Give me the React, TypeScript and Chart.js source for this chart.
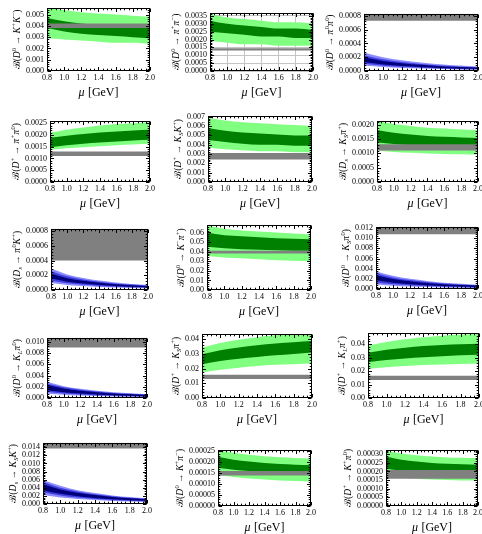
import React, { useEffect, useRef } from 'react';
import { Chart, registerables } from 'chart.js';
Chart.register(...registerables);

const FONT = "'Liberation Serif', 'DejaVu Serif', serif";

// ---------- shared x axis ----------
const MU = [0.8, 1.0, 1.2, 1.4, 1.6, 1.8, 2.0];
const X_TICK_LABELS = ['0.8', '1.0', '1.2', '1.4', '1.6', '1.8', '2.0'];
const X_TITLE = 'μ [GeV]';

// ---------- panel 1: D0 -> K+ K- ----------
const P1_TITLE = 'ℬ(D^0 → K^+K^−)';
const P1_YTICKS = ['0.000', '0.001', '0.002', '0.003', '0.004', '0.005'];
const P1_YMAX = 0.0056;
const P1_LG_LO = [0.0029, 0.0028, 0.0027, 0.0026, 0.0025, 0.0025, 0.0024];
const P1_LG_HI = [0.0056, 0.0054, 0.0052, 0.0051, 0.0050, 0.0049, 0.0048];
const P1_DG_LO = [0.0038, 0.0035, 0.0033, 0.0032, 0.0031, 0.0030, 0.0029];
const P1_DG_HI = [0.0047, 0.0044, 0.0042, 0.0041, 0.0040, 0.0039, 0.0038];
const P1_EXP = [0.0038, 0.0042];

// ---------- panel 2: D0 -> pi+ pi- ----------
const P2_TITLE = 'ℬ(D^0 → π^+π^−)';
const P2_YTICKS = ['0.0000', '0.0005', '0.0010', '0.0015', '0.0020', '0.0025', '0.0030', '0.0035'];
const P2_YMAX = 0.0037;
const P2_LG_LO = [0.0019, 0.0018, 0.0017, 0.0017, 0.0016, 0.0016, 0.0016];
const P2_LG_HI = [0.0036, 0.0034, 0.0033, 0.0032, 0.0031, 0.0031, 0.0030];
const P2_DG_LO = [0.0025, 0.0024, 0.0023, 0.0022, 0.0022, 0.0021, 0.0021];
const P2_DG_HI = [0.0032, 0.0030, 0.0029, 0.0028, 0.0027, 0.0027, 0.0026];
const P2_EXP = [0.0013, 0.00145];

// ---------- panel 3: D0 -> pi0 pi0 ----------
const P3_TITLE = 'ℬ(D^0 → π^0π^0)';
const P3_YTICKS = ['0.0000', '0.0002', '0.0004', '0.0006', '0.0008'];
const P3_YMAX = 0.00083;
const P3_BL_LO = [0.00008, 0.000058, 0.000045, 0.000035, 0.000028, 0.000023, 0.000019];
const P3_BL_HI = [0.00027, 0.0002, 0.000155, 0.000122, 0.000097, 0.00008, 0.000066];
const P3_BM_LO = [0.000105, 0.000077, 0.00006, 0.000047, 0.000037, 0.00003, 0.000025];
const P3_BM_HI = [0.00023, 0.00017, 0.000131, 0.000103, 0.000081, 0.000067, 0.000055];
const P3_BD_LO = [0.00013, 0.000095, 0.000074, 0.000058, 0.000045, 0.000037, 0.000031];
const P3_BD_HI = [0.0002, 0.000146, 0.000113, 0.000089, 0.00007, 0.000058, 0.000048];
const P3_EXP = [0.00073, 0.0009];

// ---------- panel 4: D+ -> pi+ pi0 ----------
const P4_TITLE = 'ℬ(D^+ → π^+π^0)';
const P4_YTICKS = ['0.0000', '0.0005', '0.0010', '0.0015', '0.0020', '0.0025'];
const P4_YMAX = 0.0026;
const P4_LG_LO = [0.00137, 0.00143, 0.00148, 0.00152, 0.00156, 0.00159, 0.00162];
const P4_LG_HI = [0.0021, 0.00222, 0.00232, 0.0024, 0.00246, 0.0025, 0.00254];
const P4_DG_LO = [0.00148, 0.00156, 0.00163, 0.00168, 0.00172, 0.00176, 0.00179];
const P4_DG_HI = [0.00188, 0.00197, 0.00204, 0.0021, 0.00215, 0.00219, 0.00222];
const P4_EXP = [0.0011, 0.0013];

// ---------- panel 5: D+ -> KS K+ ----------
const P5_TITLE = 'ℬ(D^+ → K_SK^+)';
const P5_YTICKS = ['0.000', '0.001', '0.002', '0.003', '0.004', '0.005', '0.006', '0.007'];
const P5_YMAX = 0.0071;
const P5_LG_LO = [0.0037, 0.0035, 0.0034, 0.0033, 0.0033, 0.0032, 0.0032];
const P5_LG_HI = [0.0069, 0.0066, 0.0064, 0.0063, 0.0062, 0.0061, 0.0060];
const P5_DG_LO = [0.0045, 0.0043, 0.0041, 0.0040, 0.0040, 0.0039, 0.0039];
const P5_DG_HI = [0.0058, 0.0055, 0.0053, 0.0052, 0.0051, 0.0050, 0.0050];
const P5_EXP = [0.0024, 0.0031];

// ---------- panel 6: Ds -> KS pi+ ----------
const P6_TITLE = 'ℬ(D_s → K_Sπ^+)';
const P6_YTICKS = ['0.0000', '0.0005', '0.0010', '0.0015', '0.0020'];
const P6_YMAX = 0.00214;
const P6_LG_LO = [0.0011, 0.00105, 0.00102, 0.001, 0.00098, 0.00097, 0.00096];
const P6_LG_HI = [0.00212, 0.00203, 0.00196, 0.0019, 0.00187, 0.00184, 0.00182];
const P6_DG_LO = [0.00139, 0.00133, 0.00129, 0.00127, 0.00126, 0.00125, 0.00124];
const P6_DG_HI = [0.00182, 0.00172, 0.00166, 0.00161, 0.00158, 0.00156, 0.00154];
const P6_EXP = [0.0011, 0.00132];

// ---------- panel 7: Ds -> pi0 K+ ----------
const P7_TITLE = 'ℬ(D_s → π^0K^+)';
const P7_YTICKS = ['0.0000', '0.0002', '0.0004', '0.0006', '0.0008'];
const P7_YMAX = 0.00083;
const P7_BL_LO = [0.000095, 0.000069, 0.000053, 0.000042, 0.000033, 0.000027, 0.000022];
const P7_BL_HI = [0.00029, 0.00021, 0.000163, 0.000128, 0.000101, 0.000083, 0.000069];
const P7_BM_LO = [0.000125, 0.00009, 0.00007, 0.000055, 0.000043, 0.000036, 0.00003];
const P7_BM_HI = [0.000255, 0.000185, 0.000143, 0.000112, 0.000089, 0.000073, 0.00006];
const P7_BD_LO = [0.000155, 0.000113, 0.000087, 0.000068, 0.000054, 0.000044, 0.000037];
const P7_BD_HI = [0.00022, 0.00016, 0.000124, 0.000097, 0.000077, 0.000063, 0.000052];
const P7_EXP = [0.0004, 0.0009];

// ---------- panel 8: D0 -> K- pi+ ----------
const P8_TITLE = 'ℬ(D^0 → K^−π^+)';
const P8_YTICKS = ['0.00', '0.01', '0.02', '0.03', '0.04', '0.05', '0.06'];
const P8_YMAX = 0.068;
const P8_LG_LO = [0.0355, 0.034, 0.033, 0.032, 0.031, 0.0305, 0.030];
const P8_LG_HI = [0.067, 0.064, 0.062, 0.061, 0.060, 0.059, 0.058];
const P8_DG_LO = [0.045, 0.0435, 0.0425, 0.042, 0.0415, 0.041, 0.041];
const P8_DG_HI = [0.060, 0.057, 0.056, 0.055, 0.054, 0.0535, 0.053];
const P8_EXP = [0.038, 0.041];

// ---------- panel 9: D0 -> KS pi0 ----------
const P9_TITLE = 'ℬ(D^0 → K_Sπ^0)';
const P9_YTICKS = ['0.000', '0.002', '0.004', '0.006', '0.008', '0.010', '0.012'];
const P9_YMAX = 0.01225;
const P9_BL_LO = [0.0009, 0.00066, 0.0005, 0.0004, 0.00032, 0.00026, 0.00021];
const P9_BL_HI = [0.0035, 0.0026, 0.002, 0.0016, 0.00125, 0.00103, 0.00086];
const P9_BM_LO = [0.0013, 0.00095, 0.00073, 0.00058, 0.00046, 0.00037, 0.00031];
const P9_BM_HI = [0.0031, 0.00228, 0.00176, 0.00139, 0.0011, 0.0009, 0.00075];
const P9_BD_LO = [0.0017, 0.00124, 0.00096, 0.00076, 0.0006, 0.00049, 0.00041];
const P9_BD_HI = [0.0027, 0.00197, 0.00152, 0.0012, 0.00095, 0.00078, 0.00065];
const P9_EXP = [0.0108, 0.013];

// ---------- panel 10: D0 -> KL pi0 ----------
const P10_TITLE = 'ℬ(D^0 → K_Lπ^0)';
const P10_YTICKS = ['0.000', '0.002', '0.004', '0.006', '0.008', '0.010'];
const P10_YMAX = 0.01075;
const P10_BL_LO = [0.00078, 0.00057, 0.00044, 0.00035, 0.00027, 0.00022, 0.00019];
const P10_BL_HI = [0.0029, 0.0021, 0.00163, 0.00128, 0.00101, 0.00083, 0.00069];
const P10_BM_LO = [0.0011, 0.0008, 0.00062, 0.00049, 0.00039, 0.00032, 0.00026];
const P10_BM_HI = [0.0026, 0.0019, 0.00146, 0.00115, 0.00091, 0.00075, 0.00062];
const P10_BD_LO = [0.0014, 0.00102, 0.00079, 0.00062, 0.00049, 0.0004, 0.00033];
const P10_BD_HI = [0.0023, 0.00168, 0.0013, 0.00102, 0.00081, 0.00066, 0.00055];
const P10_EXP = [0.009, 0.0115];

// ---------- panel 11: D+ -> KS pi+ ----------
const P11_TITLE = 'ℬ(D^+ → K_Sπ^+)';
const P11_YTICKS = ['0.00', '0.01', '0.02', '0.03', '0.04'];
const P11_YMAX = 0.0438;
const P11_LG_LO = [0.0174, 0.0193, 0.0207, 0.0218, 0.0226, 0.0231, 0.0235];
const P11_LG_HI = [0.0343, 0.0375, 0.0398, 0.0415, 0.0428, 0.0436, 0.0440];
const P11_DG_LO = [0.023, 0.0252, 0.0268, 0.028, 0.0291, 0.0301, 0.031];
const P11_DG_HI = [0.0298, 0.0325, 0.0345, 0.036, 0.0372, 0.0381, 0.0389];
const P11_EXP = [0.013, 0.0158];

// ---------- panel 12: D+ -> KL pi+ ----------
const P12_TITLE = 'ℬ(D^+ → K_Lπ^+)';
const P12_YTICKS = ['0.00', '0.01', '0.02', '0.03', '0.04'];
const P12_YMAX = 0.0483;
const P12_LG_LO = [0.0215, 0.0228, 0.0237, 0.0244, 0.0249, 0.0252, 0.0255];
const P12_LG_HI = [0.0388, 0.0415, 0.0435, 0.045, 0.0462, 0.047, 0.0476];
const P12_DG_LO = [0.0265, 0.0281, 0.0293, 0.0302, 0.031, 0.0316, 0.0321];
const P12_DG_HI = [0.0336, 0.0358, 0.0373, 0.0385, 0.0393, 0.0398, 0.0402];
const P12_EXP = [0.0133, 0.0165];

// ---------- panel 13: Ds -> KS K+ ----------
const P13_TITLE = 'ℬ(D_s → K_SK^+)';
const P13_YTICKS = ['0.000', '0.002', '0.004', '0.006', '0.008', '0.010', '0.012', '0.014'];
const P13_YMAX = 0.0151;
const P13_BL_LO = [0.0022, 0.0016, 0.00124, 0.00097, 0.00076, 0.00062, 0.00051];
const P13_BL_HI = [0.0059, 0.0045, 0.0034, 0.0027, 0.0021, 0.0017, 0.0014];
const P13_BM_LO = [0.0029, 0.0021, 0.0016, 0.00126, 0.00098, 0.0008, 0.00066];
const P13_BM_HI = [0.0055, 0.004, 0.0031, 0.0024, 0.0019, 0.00154, 0.00127];
const P13_BD_LO = [0.0034, 0.0025, 0.0019, 0.0015, 0.00116, 0.00095, 0.00079];
const P13_BD_HI = [0.0049, 0.0036, 0.0028, 0.0022, 0.0017, 0.0014, 0.00114];
const P13_EXP = [0.0137, 0.016];

// ---------- panel 14: D0 -> K+ pi- ----------
const P14_TITLE = 'ℬ(D^0 → K^+π^−)';
const P14_YTICKS = ['0.00000', '0.00005', '0.00010', '0.00015', '0.00020', '0.00025'];
const P14_YMAX = 0.000257;
const P14_LG_LO = [0.000142, 0.000133, 0.000126, 0.000121, 0.000117, 0.000114, 0.000112];
const P14_LG_HI = [0.000255, 0.000243, 0.000234, 0.000228, 0.000223, 0.00022, 0.000217];
const P14_DG_LO = [0.000175, 0.000166, 0.00016, 0.000156, 0.000153, 0.000151, 0.00015];
const P14_DG_HI = [0.000225, 0.000212, 0.000203, 0.000197, 0.000192, 0.000189, 0.000187];
const P14_EXP = [0.00014, 0.00016];

// ---------- panel 15: D+ -> K+ pi0 ----------
const P15_TITLE = 'ℬ(D^+ → K^+π^0)';
const P15_YTICKS = ['0.00000', '0.00005', '0.00010', '0.00015', '0.00020', '0.00025', '0.00030'];
const P15_YMAX = 0.000325;
const P15_LG_LO = [0.000172, 0.000163, 0.000157, 0.000153, 0.00015, 0.000148, 0.000147];
const P15_LG_HI = [0.000319, 0.000303, 0.000293, 0.000286, 0.000281, 0.000279, 0.000277];
const P15_DG_LO = [0.000216, 0.000205, 0.000199, 0.000195, 0.000193, 0.000192, 0.000191];
const P15_DG_HI = [0.000286, 0.000268, 0.000257, 0.000249, 0.000244, 0.000241, 0.000239];
const P15_EXP = [0.000158, 0.000208];

// ---------- styles ----------
const C_LG = '#80ff80';
const C_DG = '#008000';
const C_GRAY = '#808080';
const C_BL = '#8c8cff';
const C_BM = '#4040e0';
const C_BD = '#00007c';

type Band = { color: string; lo: number[]; hi: number[]; xs: number[] };
type PanelCfg = { title: string; yTicks: string[]; yMax: number; bands: Band[]; grid?: boolean };

const EXP_X = [MU[0], MU[MU.length - 1]];
const expBand = (e: number[]): Band => ({ color: C_GRAY, lo: [e[0], e[0]], hi: [e[1], e[1]], xs: EXP_X });
const green = (lgLo: number[], lgHi: number[], dgLo: number[], dgHi: number[], e: number[]): Band[] => [
  { color: C_LG, lo: lgLo, hi: lgHi, xs: MU },
  { color: C_DG, lo: dgLo, hi: dgHi, xs: MU },
  expBand(e),
];
const blue = (a: number[], b: number[], c: number[], d: number[], f: number[], g: number[], e: number[]): Band[] => [
  expBand(e),
  { color: C_BL, lo: a, hi: b, xs: MU },
  { color: C_BM, lo: c, hi: d, xs: MU },
  { color: C_BD, lo: f, hi: g, xs: MU },
];

const PANELS: PanelCfg[] = [
  { title: P1_TITLE, yTicks: P1_YTICKS, yMax: P1_YMAX, bands: green(P1_LG_LO, P1_LG_HI, P1_DG_LO, P1_DG_HI, P1_EXP) },
  { title: P2_TITLE, yTicks: P2_YTICKS, yMax: P2_YMAX, bands: green(P2_LG_LO, P2_LG_HI, P2_DG_LO, P2_DG_HI, P2_EXP), grid: true },
  { title: P3_TITLE, yTicks: P3_YTICKS, yMax: P3_YMAX, bands: blue(P3_BL_LO, P3_BL_HI, P3_BM_LO, P3_BM_HI, P3_BD_LO, P3_BD_HI, P3_EXP) },
  { title: P4_TITLE, yTicks: P4_YTICKS, yMax: P4_YMAX, bands: green(P4_LG_LO, P4_LG_HI, P4_DG_LO, P4_DG_HI, P4_EXP) },
  { title: P5_TITLE, yTicks: P5_YTICKS, yMax: P5_YMAX, bands: green(P5_LG_LO, P5_LG_HI, P5_DG_LO, P5_DG_HI, P5_EXP) },
  { title: P6_TITLE, yTicks: P6_YTICKS, yMax: P6_YMAX, bands: green(P6_LG_LO, P6_LG_HI, P6_DG_LO, P6_DG_HI, P6_EXP) },
  { title: P7_TITLE, yTicks: P7_YTICKS, yMax: P7_YMAX, bands: blue(P7_BL_LO, P7_BL_HI, P7_BM_LO, P7_BM_HI, P7_BD_LO, P7_BD_HI, P7_EXP) },
  { title: P8_TITLE, yTicks: P8_YTICKS, yMax: P8_YMAX, bands: green(P8_LG_LO, P8_LG_HI, P8_DG_LO, P8_DG_HI, P8_EXP) },
  { title: P9_TITLE, yTicks: P9_YTICKS, yMax: P9_YMAX, bands: blue(P9_BL_LO, P9_BL_HI, P9_BM_LO, P9_BM_HI, P9_BD_LO, P9_BD_HI, P9_EXP) },
  { title: P10_TITLE, yTicks: P10_YTICKS, yMax: P10_YMAX, bands: blue(P10_BL_LO, P10_BL_HI, P10_BM_LO, P10_BM_HI, P10_BD_LO, P10_BD_HI, P10_EXP) },
  { title: P11_TITLE, yTicks: P11_YTICKS, yMax: P11_YMAX, bands: green(P11_LG_LO, P11_LG_HI, P11_DG_LO, P11_DG_HI, P11_EXP) },
  { title: P12_TITLE, yTicks: P12_YTICKS, yMax: P12_YMAX, bands: green(P12_LG_LO, P12_LG_HI, P12_DG_LO, P12_DG_HI, P12_EXP) },
  { title: P13_TITLE, yTicks: P13_YTICKS, yMax: P13_YMAX, bands: blue(P13_BL_LO, P13_BL_HI, P13_BM_LO, P13_BM_HI, P13_BD_LO, P13_BD_HI, P13_EXP) },
  { title: P14_TITLE, yTicks: P14_YTICKS, yMax: P14_YMAX, bands: green(P14_LG_LO, P14_LG_HI, P14_DG_LO, P14_DG_HI, P14_EXP) },
  { title: P15_TITLE, yTicks: P15_YTICKS, yMax: P15_YMAX, bands: green(P15_LG_LO, P15_LG_HI, P15_DG_LO, P15_DG_HI, P15_EXP) },
];

// ---------- layout (plot-area rectangles, page pixels) ----------
const COL_START = [0, 160, 322];
const LAYOUT = [
  { l: 47, r: 150, t: 7, b: 71 },
  { l: 210, r: 313, t: 12, b: 71 },
  { l: 364, r: 478, t: 13, b: 71 },
  { l: 50, r: 150, t: 120, b: 182 },
  { l: 208, r: 312, t: 115, b: 182 },
  { l: 377, r: 478, t: 120, b: 182 },
  { l: 51, r: 148, t: 228, b: 290 },
  { l: 207, r: 311, t: 224, b: 290 },
  { l: 376, r: 478, t: 226, b: 289 },
  { l: 47, r: 147, t: 337, b: 398 },
  { l: 202, r: 312, t: 333, b: 398 },
  { l: 368, r: 479, t: 332, b: 398 },
  { l: 43, r: 147, t: 442, b: 504 },
  { l: 218, r: 311, t: 449, b: 506 },
  { l: 386, r: 478, t: 449, b: 506 },
];
const PAD_TOP = 7;
const PAD_RIGHT = 10;
const X_AXIS_H = 32;
const TICK_FONT = 8;
const YTITLE_FONT = 9.5;
const XTITLE_FONT = 12;

// ---------- rich text ----------
type Seg = { t: string; m: 'n' | 'sup' | 'sub' };
function parseRich(s: string): Seg[] {
  const out: Seg[] = [];
  for (let i = 0; i < s.length; i++) {
    const c = s[i];
    if ((c === '^' || c === '_') && i + 1 < s.length) {
      out.push({ t: s[i + 1], m: c === '^' ? 'sup' : 'sub' });
      i++;
    } else out.push({ t: c, m: 'n' });
  }
  return out;
}
function segFont(seg: Seg, size: number, italicRe: RegExp) {
  const sz = seg.m === 'n' ? size : size * 0.68;
  const it = italicRe.test(seg.t) ? 'italic ' : '';
  return `${it}${sz}px ${FONT}`;
}
function drawRich(ctx: CanvasRenderingContext2D, segs: Seg[], size: number, italicRe: RegExp) {
  const ws = segs.map((s) => {
    ctx.font = segFont(s, size, italicRe);
    return ctx.measureText(s.t).width + (s.m === 'n' && italicRe.test(s.t) ? 0.4 : 0);
  });
  const total = ws.reduce((a, b) => a + b, 0);
  let x = -total / 2;
  const base = size * 0.33;
  ctx.textAlign = 'left';
  ctx.textBaseline = 'alphabetic';
  segs.forEach((s, i) => {
    ctx.font = segFont(s, size, italicRe);
    const y = base + (s.m === 'sup' ? -size * 0.4 : s.m === 'sub' ? size * 0.24 : 0);
    ctx.fillText(s.t, x, y);
    x += ws[i];
  });
}

const decorPlugin = {
  id: 'decor',
  afterDatasetsDraw(chart: any, _args: any, opts: any) {
    const { ctx, chartArea: a, scales } = chart;
    const xs = scales.x, ys = scales.y;
    ctx.save();
    ctx.strokeStyle = '#000';
    ctx.lineWidth = 1;
    const L = Math.round(a.left) + 0.5, R = Math.round(a.right) - 0.5;
    const T = Math.round(a.top) + 0.5, B = Math.round(a.bottom) - 0.5;
    ctx.beginPath();
    const xMaj: number[] = opts.xTicks;
    const yMaj: number[] = opts.yTicks;
    const xStep = xMaj[1] - xMaj[0];
    const yStep = yMaj[1] - yMaj[0];
    const tick = (px: number, len: number, vertical: boolean) => {
      const p = Math.round(px) + 0.5;
      if (vertical) {
        ctx.moveTo(p, B); ctx.lineTo(p, B - len);
        ctx.moveTo(p, T); ctx.lineTo(p, T + len);
      } else {
        ctx.moveTo(L, p); ctx.lineTo(L + len, p);
        ctx.moveTo(R, p); ctx.lineTo(R - len, p);
      }
    };
    for (let k = 0; k < xMaj.length; k++) {
      tick(xs.getPixelForValue(xMaj[k]), 3.5, true);
      if (k < xMaj.length - 1) for (let m = 1; m < 4; m++) tick(xs.getPixelForValue(xMaj[k] + (xStep * m) / 4), 1.8, true);
    }
    const yEnd = ys.max;
    for (let k = 0; k < yMaj.length; k++) {
      tick(ys.getPixelForValue(yMaj[k]), 3.5, false);
      for (let m = 1; m < 5; m++) {
        const v = yMaj[k] + (yStep * m) / 5;
        if (v < yEnd) tick(ys.getPixelForValue(v), 1.8, false);
      }
    }
    ctx.stroke();
    ctx.strokeRect(L, T, R - L, B - T);

    // y title
    ctx.fillStyle = '#000';
    ctx.font = `${TICK_FONT}px ${FONT}`;
    const maxW = Math.max(...opts.yLabels.map((s: string) => ctx.measureText(s).width));
    const cx = a.left - 3 - maxW - 9;
    const cy = (a.top + a.bottom) / 2;
    ctx.save();
    ctx.translate(cx, cy);
    ctx.rotate(-Math.PI / 2);
    drawRich(ctx, parseRich(opts.title), YTITLE_FONT, /[A-Za-zπ]/);
    ctx.restore();

    // x title
    ctx.save();
    ctx.translate((a.left + a.right) / 2, a.bottom + 21);
    drawRich(ctx, parseRich(X_TITLE), XTITLE_FONT, /μ/);
    ctx.restore();
    ctx.restore();
  },
};

function Panel({ cfg, rect, col }: { cfg: PanelCfg; rect: { l: number; r: number; t: number; b: number }; col: number }) {
  const ref = useRef<HTMLCanvasElement>(null);
  const cl = COL_START[col];
  const ct = rect.t - PAD_TOP;
  const cw = rect.r + PAD_RIGHT - cl;
  const ch = rect.b + X_AXIS_H - ct;
  const axisW = rect.l - cl;

  useEffect(() => {
    const xTickVals = X_TICK_LABELS.map(parseFloat);
    const yTickVals = cfg.yTicks.map(parseFloat);
    const datasets: any[] = [];
    const n = cfg.bands.length;
    cfg.bands.forEach((b, k) => {
      const order = n - k;
      const common = {
        borderWidth: 0,
        borderColor: 'rgba(0,0,0,0)',
        pointRadius: 0,
        cubicInterpolationMode: 'monotone',
        order,
      };
      datasets.push({ ...common, data: b.lo.map((y, i) => ({ x: b.xs[i], y })), fill: false });
      datasets.push({ ...common, data: b.hi.map((y, i) => ({ x: b.xs[i], y })), fill: '-1', backgroundColor: b.color });
    });
    const gridOpts = cfg.grid
      ? { display: true, drawTicks: false, color: '#c4c4c4', lineWidth: 1 }
      : { display: false, drawTicks: false };
    const chart = new Chart(ref.current as HTMLCanvasElement, {
      type: 'line',
      data: { datasets },
      plugins: [decorPlugin],
      options: {
        responsive: false,
        animation: false,
        events: [],
        layout: { padding: { top: PAD_TOP, right: PAD_RIGHT, left: 0, bottom: 0 } },
        plugins: {
          legend: { display: false },
          tooltip: { enabled: false },
          decor: { xTicks: xTickVals, yTicks: yTickVals, yLabels: cfg.yTicks, title: cfg.title },
        } as any,
        scales: {
          x: {
            type: 'linear',
            min: MU[0],
            max: MU[MU.length - 1],
            afterBuildTicks: (s: any) => { s.ticks = xTickVals.map((v) => ({ value: v })); },
            afterFit: (s: any) => { s.height = X_AXIS_H; },
            ticks: {
              autoSkip: false,
              maxRotation: 0,
              padding: 2,
              color: '#000',
              font: { family: FONT, size: TICK_FONT },
              callback: (_v: any, i: number) => X_TICK_LABELS[i],
            },
            grid: gridOpts as any,
            border: { display: false },
          },
          y: {
            type: 'linear',
            min: 0,
            max: cfg.yMax,
            afterBuildTicks: (s: any) => { s.ticks = yTickVals.map((v) => ({ value: v })); },
            afterFit: (s: any) => { s.width = axisW; },
            ticks: {
              autoSkip: false,
              padding: 3,
              color: '#000',
              font: { family: FONT, size: TICK_FONT },
              callback: (_v: any, i: number) => cfg.yTicks[i],
            },
            grid: gridOpts as any,
            border: { display: false },
          },
        },
      } as any,
    });
    return () => chart.destroy();
  }, []);

  return (
    <canvas
      ref={ref}
      width={cw}
      height={ch}
      style={{ position: 'absolute', left: cl, top: ct, width: cw, height: ch }}
    />
  );
}

export default function App() {
  return (
    <div
      style={{
        position: 'absolute',
        left: 0,
        top: 0,
        width: 482,
        height: 534,
        overflow: 'hidden',
        background: '#fff',
      }}
    >
      {PANELS.map((p, i) => (
        <Panel key={i} cfg={p} rect={LAYOUT[i]} col={i % 3} />
      ))}
    </div>
  );
}
